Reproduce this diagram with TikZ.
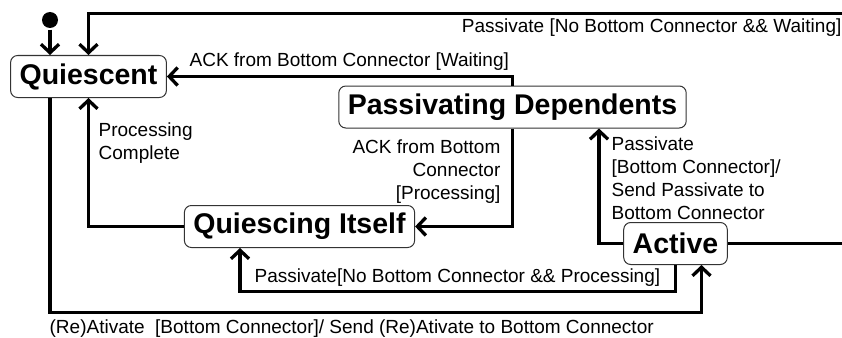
\documentclass[tikz,border=0pt]{standalone}
\usepackage{fontspec}
\setmainfont{Liberation Sans}
\usetikzlibrary{arrows.meta,positioning}

\begin{document}
\begin{tikzpicture}[x=1pt,y=-1pt,>={Straight Barb[length=8.5pt,width=18pt]},
  line width=3.3pt,
  state/.style={rectangle,rounded corners=7pt,draw=black!80,line width=1pt,
    minimum height=42pt,inner xsep=9pt,font=\fontsize{28.5}{30}\selectfont\bfseries},
  lbl/.style={font=\fontsize{19}{23}\selectfont,inner sep=2pt}]
  \useasboundingbox (0,0) rectangle (842,337);
  \node[circle,fill,inner sep=0pt,minimum size=16pt] (init) at (50,20) {};
  \node[state] (q) at (88.5,76.5) {Quiescent};
  \node[state] (pd) at (512.5,107) {Passivating Dependents};
  \node[state] (qi) at (299.5,226.5) {Quiescing Itself};
  \node[state] (act) at (675.5,243.5) {Active};
  \coordinate (top) at (845,13.5);
  \coordinate (aout) at (845,243.5);
  \coordinate (pnb) at (240,291.5);
  \coordinate (rb) at (50,312.5);

  % transitions
  \draw[->] (init) -- (init |- q.north);
  \draw[->] (top) -| (q.north)
    node[lbl,pos=0,anchor=north east,yshift=-2pt] {Passivate [No Bottom Connector \&\& Waiting]};
  \draw[->] (pd.north) |- (q.east)
    node[lbl,pos=0.5,anchor=south east,yshift=2.5pt] {ACK from Bottom Connector [Waiting]};
  \draw[->] (pd.south) |- (qi.east)
    node[lbl,pos=0,anchor=north east,align=right,xshift=-8.5pt,yshift=-7.5pt] {ACK from Bottom\\Connector\\{[}Processing]};
  \draw[->] (qi.west) -| (q.south)
    node[lbl,pos=1,anchor=north west,align=left,xshift=6.5pt,yshift=-20.7pt] {Processing\\Complete};
  \draw[->] (act.west) -| ([xshift=86.5pt]pd.south)
    node[lbl,pos=1,anchor=north west,align=left,xshift=9pt,yshift=-4.7pt] {Passivate\\{[}Bottom Connector]/\\Send Passivate to\\Bottom Connector};
  \draw (act.east) -- (aout);
  \draw[->] (act.south) |- (pnb)
    node[lbl,pos=1,anchor=south west,xshift=11pt,yshift=1pt] {Passivate[No Bottom Connector \&\& Processing]}
    -- (pnb |- qi.south);
  \draw[->] (q.south -| rb) -- (rb)
    node[lbl,anchor=north west,xshift=-4pt,yshift=-4pt] {(Re)Ativate\ \ [Bottom Connector]/ Send (Re)Ativate to Bottom Connector}
    -| ([xshift=26pt]act.south);
\end{tikzpicture}
\end{document}
